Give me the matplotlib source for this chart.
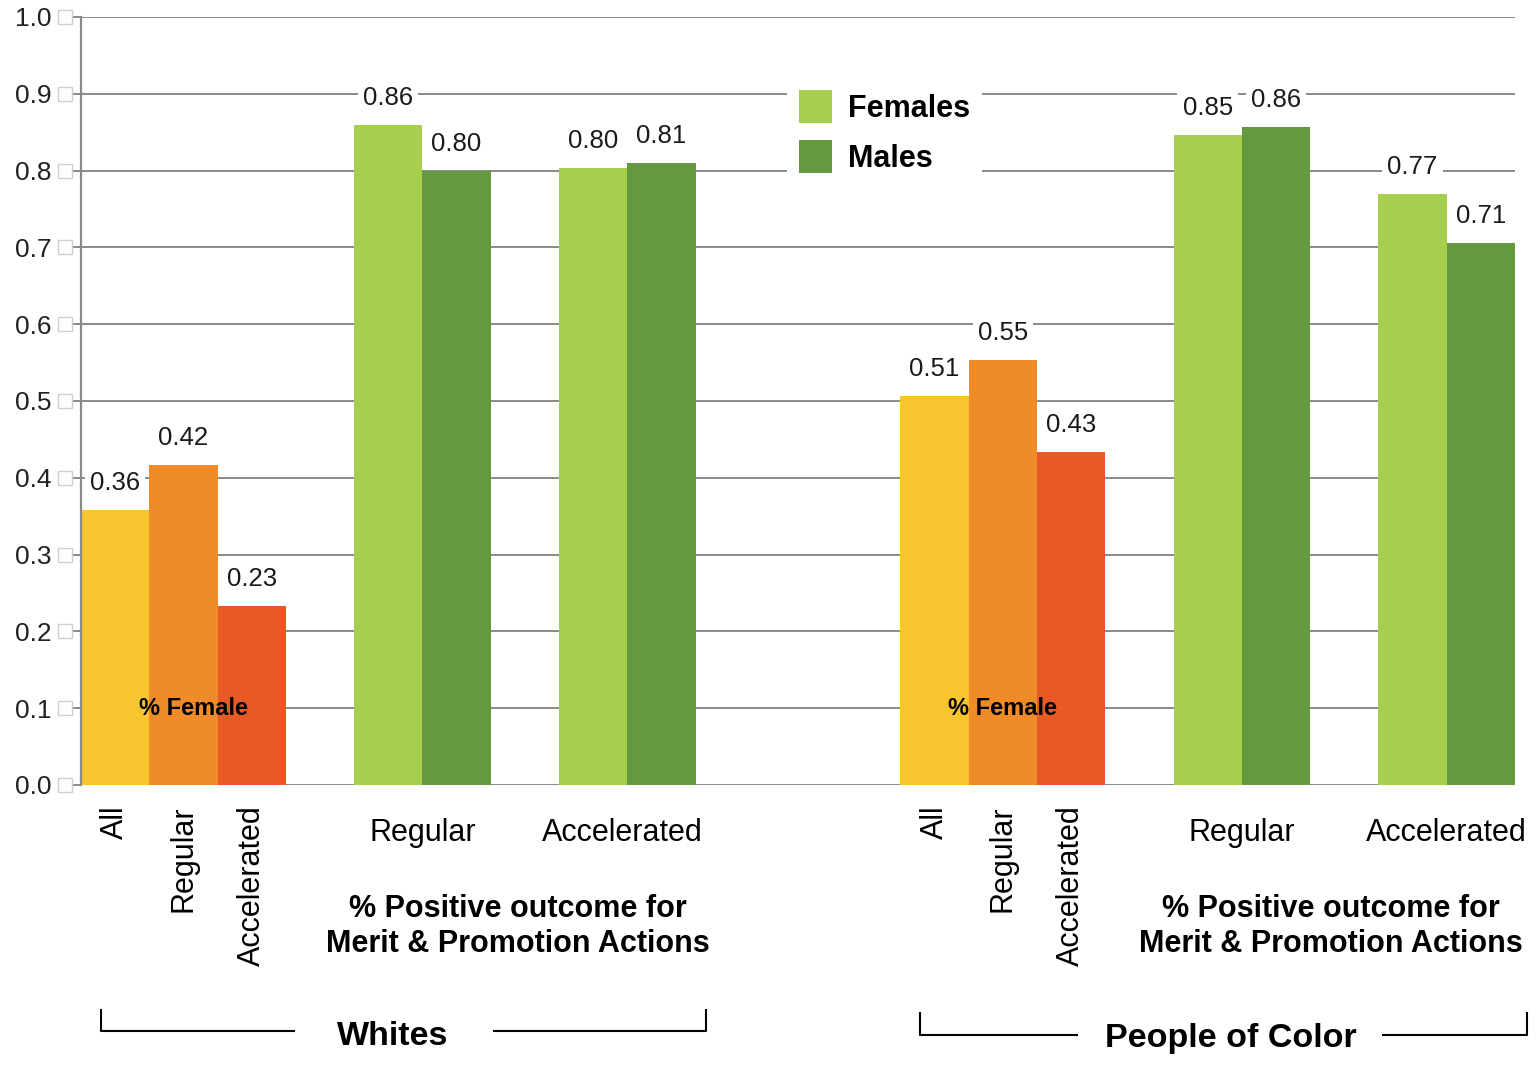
import matplotlib
matplotlib.use('Agg')
import matplotlib.pyplot as plt
from matplotlib.patches import Patch
import matplotlib.transforms as mtrans

plt.rcParams['font.family'] = ['Liberation Sans', 'DejaVu Sans']

# ---------------- data ----------------
share_categories = ['All', 'Regular', 'Accelerated']
whites_female_share = [0.358, 0.417, 0.233]
poc_female_share = [0.506, 0.553, 0.434]

outcome_categories = ['Regular', 'Accelerated']
whites_females = [0.859, 0.803]
whites_males = [0.799, 0.810]
poc_females = [0.846, 0.770]
poc_males = [0.857, 0.706]

group_names = ['Whites', 'People of Color']
series_names = ['Females', 'Males']
share_label = '% Female'
outcome_label = '% Positive outcome for\nMerit & Promotion Actions'
yticks = [0.0, 0.1, 0.2, 0.3, 0.4, 0.5, 0.6, 0.7, 0.8, 0.9, 1.0]

# ---------------- style ----------------
share_colors = ['#F8C52F', '#EF8B28', '#E85A25']
female_color = '#A5CF4D'
male_color = '#639A3F'
grid_color = '#8A8A8A'

fig = plt.figure(figsize=(15.39, 10.79), dpi=100)
ax = fig.add_axes([81 / 1539, 1 - 785 / 1079, 1434 / 1539, 768 / 1079])
ax.set_xlim(-0.5, 20.5)
ax.set_ylim(0, 1.0)
ax.set_axisbelow(True)

for s in ['top', 'right', 'bottom']:
    ax.spines[s].set_visible(False)
ax.spines['left'].set_color(grid_color)
ax.spines['left'].set_linewidth(1.6)

ax.set_yticks(yticks)
ax.set_yticklabels([f'{t:.1f}' for t in yticks], fontsize=19, color='#222222')
ax.tick_params(axis='y', length=6, width=1.4, color=grid_color, pad=15)
ax.set_xticks([])
ax.yaxis.grid(True, color=grid_color, linewidth=1.4)

# little placeholder boxes after tick labels
blend = mtrans.blended_transform_factory(ax.transAxes, ax.transData)
ax.plot([-0.0112] * len(yticks), yticks, linestyle='none', marker='s',
        markersize=9.5, markerfacecolor='white', markeredgecolor='#CFCFCF',
        markeredgewidth=1.0, transform=blend, clip_on=False)

label_kw = dict(ha='center', va='center', fontsize=18.5, color='#1a1a1a',
                textcoords='offset points',
                bbox=dict(boxstyle='square,pad=0.2', fc='white', ec='none'))


def value_labels(xs, vals):
    for x, v in zip(xs, vals):
        ax.annotate(f'{v:.2f}', (x, v), xytext=(0, 19.5), **label_kw)


groups = [
    (0, whites_female_share, whites_females, whites_males, 0.15, 0.0, -0.07),
    (12, poc_female_share, poc_females, poc_males, -0.01, -0.09, 0.0),
]

for start, share, fem, mal, share_dx, outcome_dx, acc_dx in groups:
    xs_share = [start + i for i in range(len(share))]
    ax.bar(xs_share, share, width=1.0, color=share_colors, linewidth=0)
    value_labels(xs_share, share)
    for x, cat in zip(xs_share, share_categories):
        ax.text(x, -0.027, cat, rotation=90, ha='center', va='top', fontsize=22,
                color='black', clip_on=False)
    ax.text(xs_share[1] + share_dx, 0.099, share_label, ha='center', va='center',
            fontsize=17, fontweight='bold', color='black')

    xs_f = [start + 4 + 3 * i for i in range(len(fem))]
    xs_m = [x + 1 for x in xs_f]
    ax.bar(xs_f, fem, width=1.0, color=female_color, linewidth=0)
    ax.bar(xs_m, mal, width=1.0, color=male_color, linewidth=0)
    value_labels(xs_f, fem)
    value_labels(xs_m, mal)
    for i, (xf, cat) in enumerate(zip(xs_f, outcome_categories)):
        dx = acc_dx if i == 1 else 0.0
        ax.text(xf + 0.5 + dx, -0.063, cat, ha='center', va='center', fontsize=22,
                color='black', clip_on=False)
    ax.text(start + 5.9 + outcome_dx, -0.184, outcome_label, ha='center', va='center',
            fontsize=22, fontweight='bold', color='black', linespacing=1.2,
            clip_on=False)

# brackets
def bracket(x0, x1, gap0, gap1, y, ytop, name, xtext, ytext):
    kw = dict(color='black', linewidth=1.5, clip_on=False, solid_capstyle='butt')
    ax.plot([x0, x0, gap0], [ytop, y, y], **kw)
    ax.plot([gap1, x1, x1], [y, y, ytop], **kw)
    ax.text(xtext, ytext, name, ha='center', va='center', fontsize=24.5,
            fontweight='bold', color='black', clip_on=False)

bracket(-0.21, 8.66, 2.63, 5.53, -0.320, -0.292, group_names[0], 4.07, -0.328)
bracket(11.78, 20.67, 14.1, 18.55, -0.325, -0.296, group_names[1], 16.34, -0.330)

# legend
handles = [Patch(facecolor=female_color, edgecolor='none'),
           Patch(facecolor=male_color, edgecolor='none')]
leg = ax.legend(handles, series_names, loc='upper left',
                bbox_to_anchor=(0.4925, 0.921), borderaxespad=0,
                prop=dict(weight='bold', size=22), frameon=True,
                facecolor='white', edgecolor='none', framealpha=1,
                fancybox=False, handlelength=1.08, handleheight=1.27,
                handletextpad=0.5, labelspacing=0.55, borderpad=0.4)
leg.get_frame().set_linewidth(0)

fig.savefig('out.png', dpi=100)
